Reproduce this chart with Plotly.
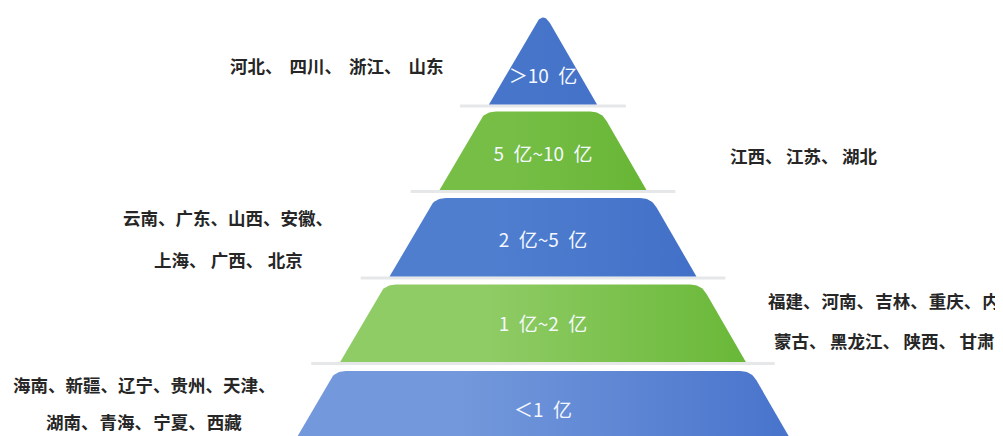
import numpy as np
import plotly.graph_objects as go

# ---------------- data ----------------
tier_labels = ["＞10\u2002亿", "5\u2002亿~10\u2002亿", "2\u2002亿~5\u2002亿", "1\u2002亿~2\u2002亿", "＜1\u2002亿"]
tier_colors_light = ["#4675ca", "#76be46", "#4f7ecf", "#90cc66", "#7398db"]
tier_colors_dark = ["#4472c8", "#68b636", "#4270c8", "#69b838", "#4571cb"]
side = ["left", "right", "left", "right", "left"]
province_lines = [
    ["河北、四川、浙江、山东"],
    ["江西、江苏、湖北"],
    ["云南、广东、山西、安徽、", "上海、广西、北京"],
    ["福建、河南、吉林、重庆、内", "蒙古、黑龙江、陕西、甘肃"],
    ["海南、新疆、辽宁、贵州、天津、", "湖南、青海、宁夏、西藏"],
]

# ---------------- geometry (pixel-like axes) ----------------
W, H = 1003, 436
cx = 535.0
apex_y = 3.0
slope = 0.578
tops = [apex_y, 103.5, 190.0, 276.5, 363.0]
bottoms = [96.5, 182.0, 268.5, 354.0, 470.0]
label_y = [70, 148, 234, 318, 404]
radius = 11.0


def hw(y):
    return slope * (y - apex_y)


def bez(p0, p1, p2, n=12):
    t = np.linspace(0, 1, n)[:, None]
    p0, p1, p2 = map(np.array, (p0, p1, p2))
    return ((1 - t) ** 2) * p0 + 2 * (1 - t) * t * p1 + (t ** 2) * p2


def tier_polygon(i):
    yt, yb = tops[i], bottoms[i]
    wt, wb = hw(yt), hw(yb)
    dx, dy = (wb - wt), (yb - yt)
    L = np.hypot(dx, dy)
    ux, uy = dx / L, dy / L
    pts = [(cx - wb, yb)]
    if i == 0:
        r = 15.0
        tl = (cx - r * ux, yt + r * uy)
        tr = (cx + r * ux, yt + r * uy)
        pts += list(map(tuple, bez(tl, (cx, yt), tr, 20)))
    else:
        c_l = (cx - wt, yt)
        c_r = (cx + wt, yt)
        pts += list(map(tuple, bez((c_l[0] - radius * ux, yt + radius * uy), c_l,
                                   (c_l[0] + radius, yt))))
        pts += list(map(tuple, bez((c_r[0] - radius, yt), c_r,
                                   (c_r[0] + radius * ux, yt + radius * uy))))
    pts.append((cx + wb, yb))
    pts.append((cx - wb, yb))
    return [p[0] for p in pts], [p[1] for p in pts]


fig = go.Figure()

# faint reflection lines below each tier
for i in range(4):
    yb = bottoms[i] + 1.5
    w = hw(yb) + 28
    fig.add_trace(go.Scatter(x=[cx - w, cx + w], y=[yb, yb], mode="lines",
                             line=dict(color="rgba(190,195,200,0.4)", width=3),
                             hoverinfo="skip", showlegend=False))

for i in range(len(tier_labels)):
    xs, ys = tier_polygon(i)
    fig.add_trace(go.Scatter(
        x=xs, y=ys, mode="lines", fill="toself",
        fillcolor=tier_colors_dark[i],
        fillgradient=dict(type="horizontal",
                          colorscale=[[0, tier_colors_light[i]], [0.35, tier_colors_light[i]],
                                      [1, tier_colors_dark[i]]]),
        line=dict(width=0, color=tier_colors_dark[i]),
        hoverinfo="skip", showlegend=False))

# labels inside tiers
fig.add_trace(go.Scatter(
    x=[cx] * len(tier_labels), y=label_y, mode="text", text=tier_labels,
    textfont=dict(family="Noto Sans CJK SC", size=19, color="#f4f8ff"),
    hoverinfo="skip", showlegend=False))

# side province texts (position, anchor and extra gap after "、" per line)
side_pos = {
    0: dict(x=220, ys=[57], anchor="left", gaps=["\u2009\u2009"]),
    1: dict(x=720, ys=[147], anchor="left", gaps=["\u2009"]),
    2: dict(x=220, ys=[209, 251], anchor="center", gaps=["", "\u2005"]),
    3: dict(x=876, ys=[292, 332], anchor="center", gaps=["\u200a", "\u2009"]),
    4: dict(x=136, ys=[376, 413], anchor="center", gaps=["", "\u200a"]),
}
for i, lines in enumerate(province_lines):
    sp = side_pos[i]
    for line, yy, gap in zip(lines, sp["ys"], sp["gaps"]):
        txt = line.replace("、", "、" + gap).rstrip(gap) if gap else line
        fig.add_annotation(x=sp["x"], y=yy, text=txt, showarrow=False,
                           xanchor=sp["anchor"], yanchor="middle",
                           font=dict(family="Noto Sans CJK SC", size=17.5, color="#262626",
                                     weight="bold"))

fig.update_layout(
    width=W, height=H,
    margin=dict(l=0, r=0, t=0, b=0),
    paper_bgcolor="white", plot_bgcolor="white",
    xaxis=dict(range=[0, W], visible=False, fixedrange=True),
    yaxis=dict(range=[H, 0], visible=False, fixedrange=True),
)

fig.write_html("out.html")
